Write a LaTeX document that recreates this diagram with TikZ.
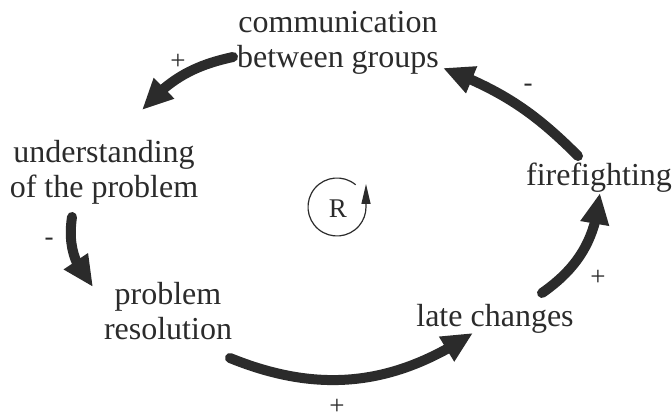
\documentclass[tikz,border=0pt]{standalone}
\usepackage{fontspec}
\setmainfont{Liberation Serif}
\usetikzlibrary{arrows.meta,calc,bending}
\definecolor{ink}{HTML}{2B2B2B}
\tikzset{
  var/.style={align=center, inner sep=0pt, anchor=base, text=ink,
    font=\fontsize{32}{35}\selectfont},
  polarity/.style={inner sep=0pt, text=ink, font=\fontsize{27}{29}\selectfont},
  link/.style={draw=ink, line width=10pt, line cap=round,
    -{Triangle[length=31pt,width=27pt,flex]}},
  loopmark/.style={draw=ink, line width=1.2pt,
    -{Triangle[length=20pt,width=9pt]}}
}
\begin{document}
\begin{tikzpicture}[x=1pt,y=1pt]
  \useasboundingbox (0,0) rectangle (672,420);

  % variables of the loop (base = baseline of the last line)
  \node[var] (comm) at (338,352) {communication\\between groups};
  \node[var] (under) at (104,222) {understanding\\of the problem};
  \node[var] (prob) at (168,80) {problem\\resolution};
  \node[var] (late) at (495,93) {late changes};
  \node[var] (fire) at (599,234) {firefighting};

  % end points of the causal links, placed around the variables
  \coordinate (c1s) at ($(comm.base)+(-105,11)$);
  \coordinate (c5e) at ($(comm.base)+(105,0)$);
  \coordinate (c1e) at ($(under.base)+(38,88)$);
  \coordinate (c2s) at ($(under.base)+(-32,-19)$);
  \coordinate (c2e) at ($(prob.base)+(-75,53)$);
  \coordinate (c3s) at ($(prob.base)+(62,-18)$);
  \coordinate (c3e) at ($(late.base)+(-22,-6)$);
  \coordinate (c4s) at ($(late.base)+(47,34)$);
  \coordinate (c4e) at ($(fire.base)+(1,-7)$);
  \coordinate (c5s) at ($(fire.base)+(-21,30)$);

  % causal links
  \draw[link] (c1s) to[bend right=18] (c1e);
  \draw[link] (c2s) to[bend right=25] (c2e);
  \draw[link] (c3s) to[bend right=28] (c3e);
  \draw[link] (c4s) to[bend right=25] (c4e);
  \draw[link] (c5s) to[bend right=12] (c5e);

  % link polarities
  \node[polarity] (p1) at (178,358) {+};
  \node[polarity] (p2) at (49,178) {-};
  \node[polarity] (p3) at (337,13) {+};
  \node[polarity] (p4) at (598,142) {+};
  \node[polarity] (p5) at (528,332) {-};

  % reinforcing loop marker
  \node[inner sep=0pt, text=ink, font=\fontsize{27}{29}\selectfont] (R) at (338,211) {R};
  \draw[loopmark] ($(R)+(-1,2)+(50:29)$) arc[start angle=50, end angle=360, radius=29] -- ++(0,23);
\end{tikzpicture}
\end{document}
